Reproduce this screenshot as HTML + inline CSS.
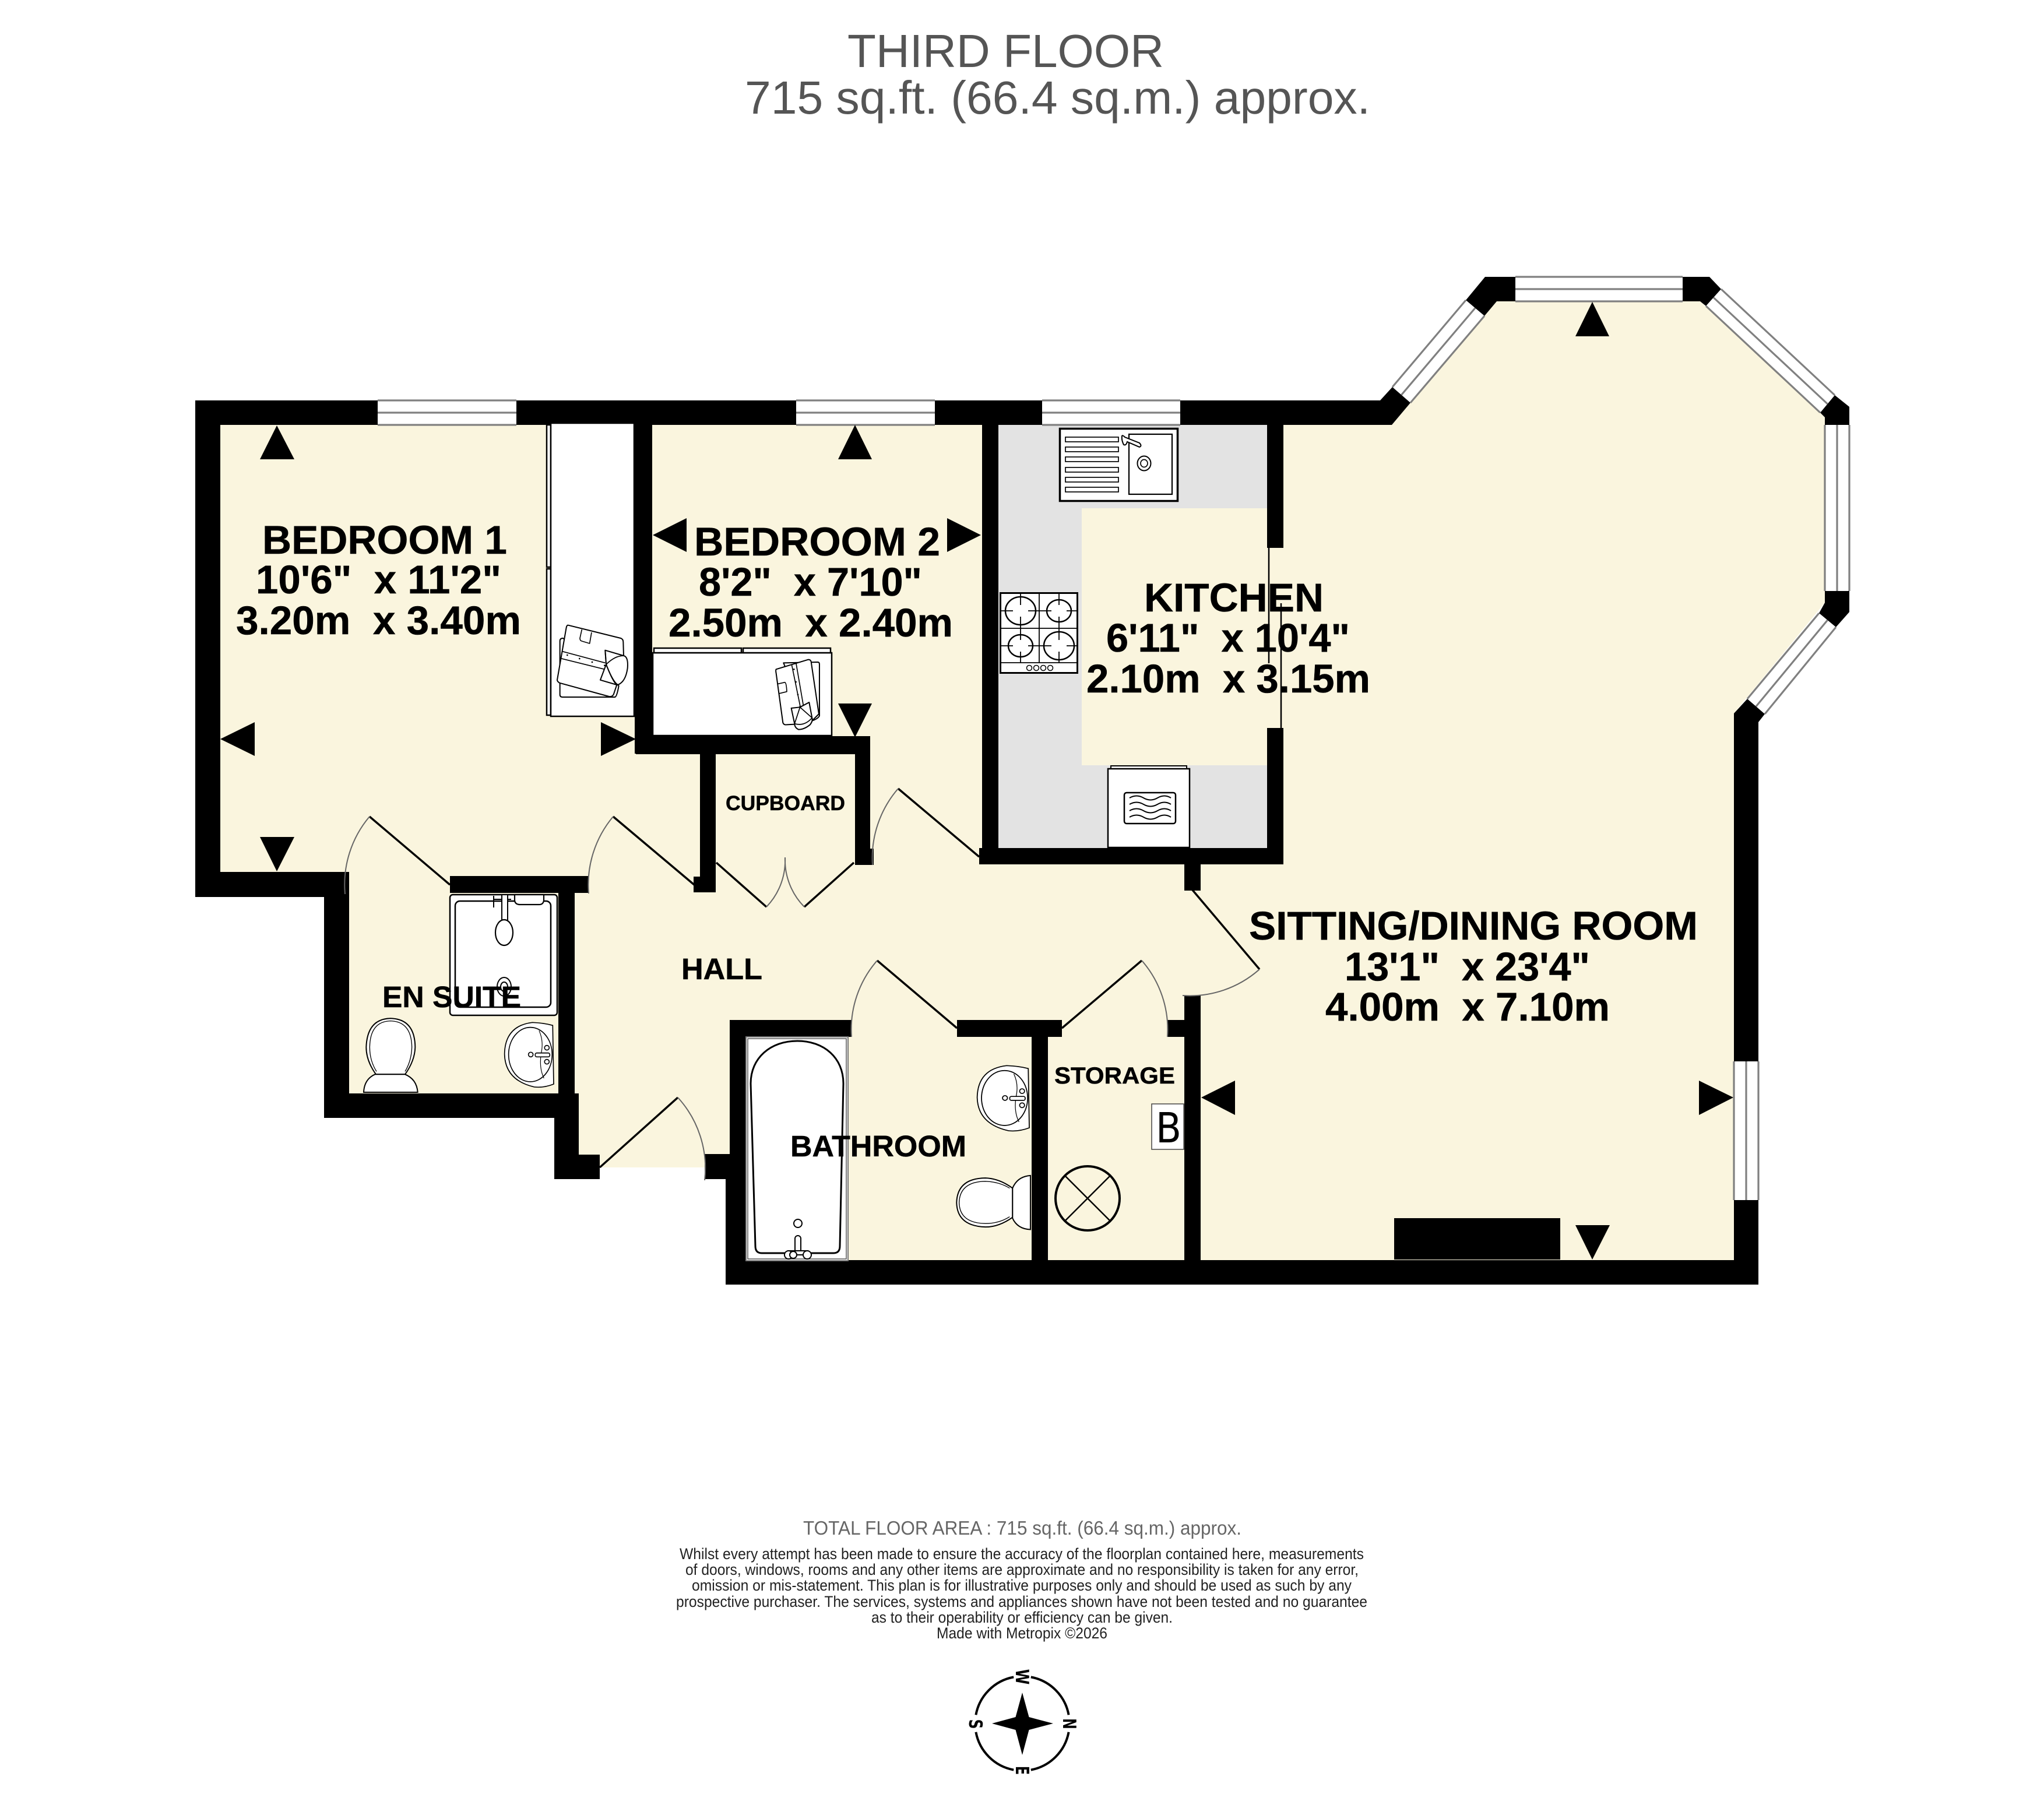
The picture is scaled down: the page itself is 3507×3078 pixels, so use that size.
<!DOCTYPE html>
<html><head><meta charset="utf-8"><title>Third Floor</title>
<style>html,body{margin:0;padding:0;background:#fff}svg{display:block}
text{font-family:"Liberation Sans",sans-serif}
.b{font-weight:bold;fill:#000;stroke:#000;stroke-width:.5}
</style></head><body>
<svg xmlns="http://www.w3.org/2000/svg" width="3507" height="3078" viewBox="0 0 3507 3078">
<rect width="3507" height="3078" fill="#fff"/>
<!-- floor -->
<polygon fill="#faf5de" points="378,729 2388,729 2568,517 2917,517 3131,716 3131,1034 2975,1224 2975,2162 1280,2162 1250,2003 993,2003 993,1876 599,1876 599,1496 378,1496"/>
<!-- kitchen -->
<rect x="1713" y="729" width="461" height="726" fill="#e3e3e3"/>
<rect x="1856" y="872" width="318" height="441" fill="#faf5de"/>
<!-- walls -->
<g fill="#000">
<rect x="335" y="687" width="2053" height="42"/>
<rect x="335" y="687" width="43" height="852"/>
<rect x="335" y="1496" width="264" height="43"/>
<rect x="556" y="1496" width="43" height="422"/>
<rect x="556" y="1876" width="437" height="42"/>
<rect x="958" y="1503" width="28" height="373"/>
<rect x="951" y="1876" width="42" height="147"/>
<rect x="772" y="1503" width="238" height="29"/>
<rect x="951" y="1981" width="78" height="42"/>
<rect x="1089" y="729" width="30" height="564"/>
<rect x="1091" y="1263" width="402" height="31"/>
<rect x="1201" y="1294" width="27" height="237"/>
<rect x="1190" y="1504" width="38" height="27"/>
<rect x="1467" y="1263" width="26" height="221"/>
<rect x="1467" y="1456" width="32" height="28"/>
<rect x="1685" y="729" width="28" height="754"/>
<rect x="1680" y="1455" width="522" height="28"/>
<rect x="2174" y="729" width="28" height="211"/>
<rect x="2174" y="1249" width="28" height="234"/>
<rect x="2032" y="1483" width="28" height="45"/>
<rect x="2032" y="1708" width="28" height="454"/>
<rect x="2003" y="1750" width="29" height="29"/>
<rect x="1252" y="1750" width="209" height="29"/>
<rect x="1642" y="1750" width="180" height="29"/>
<rect x="1770" y="1779" width="28" height="383"/>
<rect x="1252" y="1750" width="28" height="273"/>
<rect x="1245" y="2023" width="35" height="181"/>
<rect x="1209" y="1980" width="43" height="43"/>
<rect x="1245" y="2162" width="1772" height="42"/>
<rect x="2975" y="1224" width="42" height="980"/>
<rect x="2392" y="2090" width="285" height="71"/>
<polygon points="2368,687 2389,664 2420,691 2388,729 2368,729"/>
<polygon points="2548,475 2600,475 2600,517 2568,517 2547,542 2515,515"/>
<polygon points="2887,475 2933,475 2953,496 2927,525 2917,517 2887,517"/>
<polygon points="3148,678 3173,698 3173,729 3131,729 3131,716 3123,708"/>
<polygon points="3131,1014 3173,1014 3173,1050 3150,1076 3121,1052 3131,1034"/>
<polygon points="2998,1199 3028,1225 3017,1239 3017,1300 2975,1300 2975,1224"/>
</g>
<!-- windows -->
<g fill="#fff" stroke="none">
<rect x="648" y="687" width="238" height="42"/>
<rect x="1366" y="687" width="238" height="42"/>
<rect x="1788" y="687" width="237" height="42"/>
<rect x="2600" y="475" width="287" height="42"/>
<rect x="3131" y="729" width="42" height="285"/>
<rect x="2975" y="1821" width="42" height="238"/>
<polygon points="2515,515 2389,664 2420,691 2547,542"/>
<polygon points="2953,496 3148,678 3123,708 2927,525"/>
<polygon points="3150,1076 3028,1225 2998,1199 3121,1052"/>
</g>
<g stroke="#808080" stroke-width="3.200" fill="none">
<path d="M648 687H886M648 708H886M648 729H886"/>
<path d="M1366 687H1604M1366 708H1604M1366 729H1604"/>
<path d="M1788 687H2025M1788 708H2025M1788 729H2025"/>
<path d="M2600 475H2887M2600 496H2887M2600 517H2887"/>
<path d="M3131 729V1014M3152 729V1014M3173 729V1014"/>
<path d="M2975 1821V2059M2996 1821V2059M3017 1821V2059"/>
<path d="M2515 515L2389 664M2531 528.500L2404.500 677.500M2547 542L2420 691"/>
<path d="M2953 496L3148 678M2940 510.500L3135.500 693M2927 525L3123 708"/>
<path d="M3150 1076L3028 1225M3135.500 1064L3013 1212M3121 1052L2998 1199"/>
</g>
<!-- thin kitchen lines -->
<path d="M2177 940V1138M2198 1035V1249" stroke="#000" stroke-width="2.500" fill="none"/>
<!-- doors -->
<g fill="none" stroke="#000" stroke-width="3.500">
<path d="M772 1518L634 1401M1191 1518L1052 1401M1680 1470L1541 1353M1642 1764L1505 1648M1822 1764L1959 1648M1029 2003L1163 1883M2046 1527L2161 1663M1229 1480L1315 1556M1465 1480L1380 1556"/>
</g>
<g fill="none" stroke="#666" stroke-width="2">
<path d="M634 1401A181 181 0 0 0 592 1534"/>
<path d="M1052 1401A182 182 0 0 0 1010 1533"/>
<path d="M1541 1353A182 182 0 0 0 1497 1484"/>
<path d="M1505 1648A180 180 0 0 0 1461 1779"/>
<path d="M1959 1648A180 180 0 0 1 2003 1779"/>
<path d="M1163 1883A180 180 0 0 1 1209 2025"/>
<path d="M2161 1663A180 180 0 0 1 2029 1708"/>
<path d="M1315 1556A115 115 0 0 0 1347 1471"/>
<path d="M1380 1556A115 115 0 0 1 1347 1471"/>
</g>
<!-- arrows -->
<g fill="#000">
<polygon points="475,730 446,788 505,788"/>
<polygon points="475,1495 446,1436 505,1436"/>
<polygon points="378,1268 437,1239 437,1297"/>
<polygon points="1091,1268 1031,1239 1031,1297"/>
<polygon points="1467,729 1438,788 1496,788"/>
<polygon points="1120,918 1178,889 1178,947"/>
<polygon points="1683,918 1625,889 1625,947"/>
<polygon points="1467,1265 1438,1207 1496,1207"/>
<polygon points="2732,518 2703,577 2761,577"/>
<polygon points="2061,1883 2119,1854 2119,1913"/>
<polygon points="2974,1883 2915,1854 2915,1913"/>
<polygon points="2732,2161 2703,2102 2762,2102"/>
</g>
<!-- wardrobes -->
<g stroke="#000" stroke-width="2.500" fill="#fff">
<rect x="938" y="729" width="7" height="244"/>
<rect x="938" y="976" width="7" height="251"/>
<rect x="945" y="726" width="143" height="503"/>
<rect x="1120" y="1120" width="307" height="142"/>
<rect x="1122" y="1112" width="150" height="8"/>
<rect x="1275" y="1112" width="150" height="8"/>
</g>
<g transform="translate(930 1050) scale(.3333)" stroke="#000" stroke-width="6" fill="#fff" stroke-linejoin="round">
<path d="M108 135Q92 135 92 150L92 425Q92 438 105 438L375 438Q385 438 395 380L300 300Z"/>
<path d="M135 68L405 135Q418 140 418 155L420 225L385 375L368 425Q360 438 345 435L90 365Q78 358 78 350L125 80Q128 66 135 68Z"/>
<path d="M205 90L195 135Q195 148 205 150L245 162L255 105" fill="none" stroke-width="5"/>
<path d="M105 203L325 262M100 240L322 295" fill="none" stroke-width="5"/>
<path d="M325 197L420 225Q445 230 440 290Q430 360 390 375Q365 360 330 270Z"/>
<path d="M325 197L330 270L300 350L385 375Q365 360 330 270" />
<path d="M330 270Q375 225 420 225" fill="none" stroke-width="5"/>
<g fill="#000" stroke="none"><circle cx="130" cy="222" r="4"/><circle cx="193" cy="240" r="4"/><circle cx="258" cy="258" r="4"/><circle cx="322" cy="275" r="4"/></g>
<path d="M1243 262L1420 258Q1428 258 1428 270L1428 535Q1420 550 1390 560L1300 400Z"/>
<path d="M1205 295L1370 245Q1382 245 1385 255L1425 525L1390 560L1300 578L1260 580Q1245 583 1240 570L1205 315Q1202 300 1205 295Z"/>
<path d="M1285 270L1330 490M1308 265L1345 480" fill="none" stroke-width="5"/>
<path d="M1215 370L1250 362Q1258 365 1260 410L1220 420" fill="none" stroke-width="5"/>
<path d="M1283 495L1328 490L1375 465L1390 545Q1395 560 1380 580Q1350 605 1320 605Q1300 595 1300 575Z"/>
<path d="M1328 490L1300 575M1328 490L1390 545M1300 575Q1350 590 1390 545" fill="none" stroke-width="5"/>
<g fill="#000" stroke="none"><circle cx="1297" cy="295" r="4"/><circle cx="1307" cy="360" r="4"/><circle cx="1317" cy="425" r="4"/><circle cx="1328" cy="487" r="4"/></g>
</g>
<!-- sink -->
<g stroke="#000" fill="#fff">
<rect x="1818.500" y="735.500" width="202" height="124" stroke-width="3.500"/>
<g stroke-width="1.700">
<rect x="1828" y="750" width="91" height="8"/><rect x="1828" y="767" width="91" height="8"/><rect x="1828" y="784" width="91" height="8"/><rect x="1828" y="802" width="91" height="8"/><rect x="1828" y="819" width="91" height="8"/><rect x="1828" y="836" width="91" height="8"/>
</g>
<rect x="1937" y="745" width="74" height="103" stroke-width="2.200"/>
<ellipse cx="1963" cy="795" rx="11.500" ry="12.500" stroke-width="2"/><ellipse cx="1963" cy="795" rx="6" ry="6.500" stroke-width="1.700"/>
<path d="M1925 748Q1926 746 1930 750L1955 760Q1960 765 1955 767L1934 758Q1932 765 1928 763Q1924 755 1925 748Z" stroke-width="2"/>
</g>
<!-- hob -->
<g stroke="#000" fill="none">
<rect x="1716.500" y="1017.500" width="132" height="137" fill="#fff" stroke-width="3"/>
<path d="M1783 1017V1137M1717 1078H1848M1717 1137H1848" stroke-width="1.800"/>
<g stroke-width="2.500">
<ellipse cx="1751" cy="1048" rx="26" ry="24"/><ellipse cx="1817" cy="1048" rx="21" ry="19"/><ellipse cx="1751" cy="1108" rx="21" ry="19"/><ellipse cx="1817" cy="1108" rx="26" ry="24"/>
</g>
<path stroke-width="1.800" d="M1751 1018V1038M1751 1058V1078M1717 1048H1738M1764 1048H1783M1817 1018V1038M1817 1058V1078M1783 1048H1804M1830 1048H1848M1751 1078V1098M1751 1118V1137M1717 1108H1738M1764 1108H1783M1817 1078V1098M1817 1118V1137M1783 1108H1804M1830 1108H1848"/>
<g stroke-width="1.500"><circle cx="1766" cy="1146" r="4.500"/><circle cx="1778" cy="1146" r="4.500"/><circle cx="1790" cy="1146" r="4.500"/><circle cx="1802" cy="1146" r="4.500"/></g>
</g>
<!-- oven -->
<g stroke="#000" fill="#fff">
<rect x="1906" y="1314" width="130" height="6" stroke-width="2"/>
<rect x="1901" y="1319" width="140" height="135" stroke-width="2.500"/>
<rect x="1929" y="1360" width="88" height="53" rx="4" stroke-width="2.500"/>
<path fill="none" stroke-width="2" d="M1938 1369Q1950 1362 1962 1369T1986 1369T2009 1369M1938 1380Q1950 1373 1962 1380T1986 1380T2009 1380M1938 1391Q1950 1384 1962 1391T1986 1391T2009 1391M1938 1402Q1950 1395 1962 1402T1986 1402T2009 1402"/>
</g>
<!-- shower -->
<g stroke="#000" fill="#fff">
<rect x="772" y="1535" width="184" height="207" rx="5" stroke-width="2.500"/>
<rect x="781" y="1546" width="164" height="182" rx="8" stroke-width="2.500"/>
<path d="M883 1535V1545Q884 1552 892 1552H925Q932 1552 933 1545V1535Z" stroke-width="2.200"/>
<path d="M847 1537V1557M847 1543H877" stroke-width="2" fill="none"/>
<path d="M861 1535H871V1580H861Z" stroke-width="2"/>
<ellipse cx="865" cy="1600" rx="15" ry="22" stroke-width="2.200"/>
<ellipse cx="865" cy="1693" rx="12" ry="16" stroke-width="2"/><ellipse cx="865" cy="1693" rx="6" ry="8" stroke-width="2"/>
</g>
<!-- en suite toilet -->
<g id="toilet" transform="translate(600 1520) scale(.3333)" stroke="#000" fill="#fff">
<path stroke-width="6" d="M135 970Q85 900 85 830Q90 685 210 682Q335 685 337 830Q335 900 285 970Z"/>
<path stroke-width="4" d="M138 955Q103 900 103 830Q105 698 210 695Q318 698 320 830Q318 900 285 955"/>
<path stroke-width="6" d="M72 1062Q75 995 130 970L285 970Q345 995 350 1062Z"/>
</g>
<use href="#toilet" transform="translate(1768 2063) rotate(-90) translate(-670.500 -1874)"/>
<!-- basin -->
<g id="basin" transform="translate(600 1520) scale(.3333)" stroke="#000" fill="#fff" stroke-width="5">
<path d="M1045 718L1050 1020Q1000 1040 950 1035Q800 1000 797 865Q800 720 940 703Q1000 705 1045 718Z"/>
<ellipse cx="930" cy="868" rx="112" ry="140"/>
<path d="M975 745Q1000 800 985 865Q975 940 1000 990" fill="none" stroke-width="3.500"/>
<circle cx="932" cy="868" r="12"/><rect x="955" y="860" width="75" height="20" rx="8"/><circle cx="1015" cy="833" r="12"/><circle cx="1015" cy="905" r="12"/>
</g>
<use href="#basin" transform="translate(1677 1828) scale(1.06 1.01) translate(-866 -1754)"/>
<!-- bath -->
<g stroke="#000" fill="#fff">
<rect x="1280" y="1779" width="175" height="384" stroke="#777" stroke-width="2"/>
<rect x="1283" y="1782" width="169" height="378" stroke="#555" stroke-width="1.500"/>
<path stroke-width="3" d="M1288 1859C1288 1815 1322 1786 1368 1786C1414 1786 1447 1815 1447 1859L1441 2138Q1441 2150 1430 2150L1307 2150Q1296 2150 1296 2138Z"/>
<circle cx="1369" cy="2099" r="7" stroke-width="2"/>
<rect x="1364" y="2120" width="10" height="32" rx="5" stroke-width="2"/>
<rect x="1352" y="2146" width="34" height="7" stroke-width="2"/>
<circle cx="1353" cy="2153" r="7" stroke-width="2"/><circle cx="1361" cy="2153" r="6" stroke-width="2"/><circle cx="1385" cy="2153" r="7" stroke-width="2"/>
</g>
<!-- storage -->
<g stroke="#000" fill="none">
<circle cx="1866" cy="2056" r="55" stroke-width="4"/>
<path d="M1827 2017L1905 2095M1905 2017L1827 2095" stroke-width="2.500"/>
<rect x="1976" y="1894" width="55" height="78" fill="#fff" stroke-width="1.500" stroke="#444"/>
</g>
<text x="2005" y="1960" text-anchor="middle" font-size="71" style="font-family:'DejaVu Sans',sans-serif" fill="#000" textLength="44" lengthAdjust="spacingAndGlyphs">B</text>
<!-- labels -->
<g font-size="69">
<text class="b" x="450" y="950" textLength="420" lengthAdjust="spacingAndGlyphs">BEDROOM 1</text>
<text class="b" x="439" y="1018" textLength="421" lengthAdjust="spacingAndGlyphs" xml:space="preserve">10'6"  x 11'2"</text>
<text class="b" x="405" y="1088" textLength="489" lengthAdjust="spacingAndGlyphs" xml:space="preserve">3.20m  x 3.40m</text>
<text class="b" x="1191" y="953" textLength="422" lengthAdjust="spacingAndGlyphs">BEDROOM 2</text>
<text class="b" x="1199" y="1022" textLength="383" lengthAdjust="spacingAndGlyphs" xml:space="preserve">8'2"  x 7'10"</text>
<text class="b" x="1147" y="1092" textLength="488" lengthAdjust="spacingAndGlyphs" xml:space="preserve">2.50m  x 2.40m</text>
<text class="b" x="1963" y="1049" textLength="308" lengthAdjust="spacingAndGlyphs">KITCHEN</text>
<text class="b" x="1898" y="1118" textLength="418" lengthAdjust="spacingAndGlyphs" xml:space="preserve">6'11"  x 10'4"</text>
<text class="b" x="1864" y="1188" textLength="487" lengthAdjust="spacingAndGlyphs" xml:space="preserve">2.10m  x 3.15m</text>
<text class="b" x="2143" y="1612" textLength="770" lengthAdjust="spacingAndGlyphs">SITTING/DINING ROOM</text>
<text class="b" x="2307" y="1682" textLength="421" lengthAdjust="spacingAndGlyphs" xml:space="preserve">13'1"  x 23'4"</text>
<text class="b" x="2274" y="1751" textLength="488" lengthAdjust="spacingAndGlyphs" xml:space="preserve">4.00m  x 7.10m</text>
</g>
<g font-size="51">
<text class="b" font-size="51" x="1169" y="1680" textLength="139" lengthAdjust="spacingAndGlyphs">HALL</text>
<text class="b" font-size="51" x="656" y="1728" textLength="238" lengthAdjust="spacingAndGlyphs">EN SUITE</text>
<text class="b" font-size="51" x="1356" y="1984" textLength="302" lengthAdjust="spacingAndGlyphs">BATHROOM</text>
<text class="b" font-size="40" x="1809" y="1859" textLength="207" lengthAdjust="spacingAndGlyphs">STORAGE</text>
<text class="b" font-size="35" x="1245" y="1390" textLength="205" lengthAdjust="spacingAndGlyphs">CUPBOARD</text>
</g>
<!-- title -->
<g fill="#555" font-size="80">
<text x="1454" y="115" textLength="543" lengthAdjust="spacingAndGlyphs">THIRD FLOOR</text>
<text x="1278" y="195" textLength="1073" lengthAdjust="spacingAndGlyphs">715 sq.ft. (66.4 sq.m.) approx.</text>
</g>
<!-- footer -->
<text x="1378" y="2633" font-size="33" fill="#666" textLength="752" lengthAdjust="spacingAndGlyphs">TOTAL FLOOR AREA : 715 sq.ft. (66.4 sq.m.) approx.</text>
<g font-size="26.600" fill="#222">
<text x="1166" y="2675" textLength="1174" lengthAdjust="spacingAndGlyphs">Whilst every attempt has been made to ensure the accuracy of the floorplan contained here, measurements</text>
<text x="1176" y="2702" textLength="1155" lengthAdjust="spacingAndGlyphs">of doors, windows, rooms and any other items are approximate and no responsibility is taken for any error,</text>
<text x="1187" y="2729" textLength="1132" lengthAdjust="spacingAndGlyphs">omission or mis-statement. This plan is for illustrative purposes only and should be used as such by any</text>
<text x="1160" y="2757" textLength="1186" lengthAdjust="spacingAndGlyphs">prospective purchaser. The services, systems and appliances shown have not been tested and no guarantee</text>
<text x="1495" y="2784" textLength="517" lengthAdjust="spacingAndGlyphs">as to their operability or efficiency can be given.</text>
<text x="1607" y="2811" textLength="293" lengthAdjust="spacingAndGlyphs">Made with Metropix ©2026</text>
</g>
<!-- compass -->
<g fill="none" stroke="#000" stroke-width="4">
<path d="M1768.800 2877.400A81 81 0 0 1 1833.600 2942.200"/>
<path d="M1833.600 2971.800A81 81 0 0 1 1768.800 3036.600"/>
<path d="M1739.200 3036.600A81 81 0 0 1 1674.400 2971.800"/>
<path d="M1674.400 2942.200A81 81 0 0 1 1739.200 2877.400"/>
</g>
<polygon fill="#000" points="1754,2904 1765.500,2946 1807,2957 1765.500,2968 1754,3011 1742.500,2968 1702,2957 1742.500,2946"/>
<g fill="#000" font-size="31" font-weight="bold" text-anchor="middle">
<text style="font-family:'DejaVu Sans',sans-serif" transform="translate(1743 2877) rotate(90) scale(.78 1)">W</text>
<text style="font-family:'DejaVu Sans',sans-serif" transform="translate(1824 2957.500) rotate(90) scale(.72 1)">N</text>
<text style="font-family:'DejaVu Sans',sans-serif" transform="translate(1743 3037.500) rotate(90) scale(.72 1)">E</text>
<text style="font-family:'DejaVu Sans',sans-serif" transform="translate(1663 2958) rotate(90) scale(.75 1)">S</text>
</g>
</svg>
</body></html>
